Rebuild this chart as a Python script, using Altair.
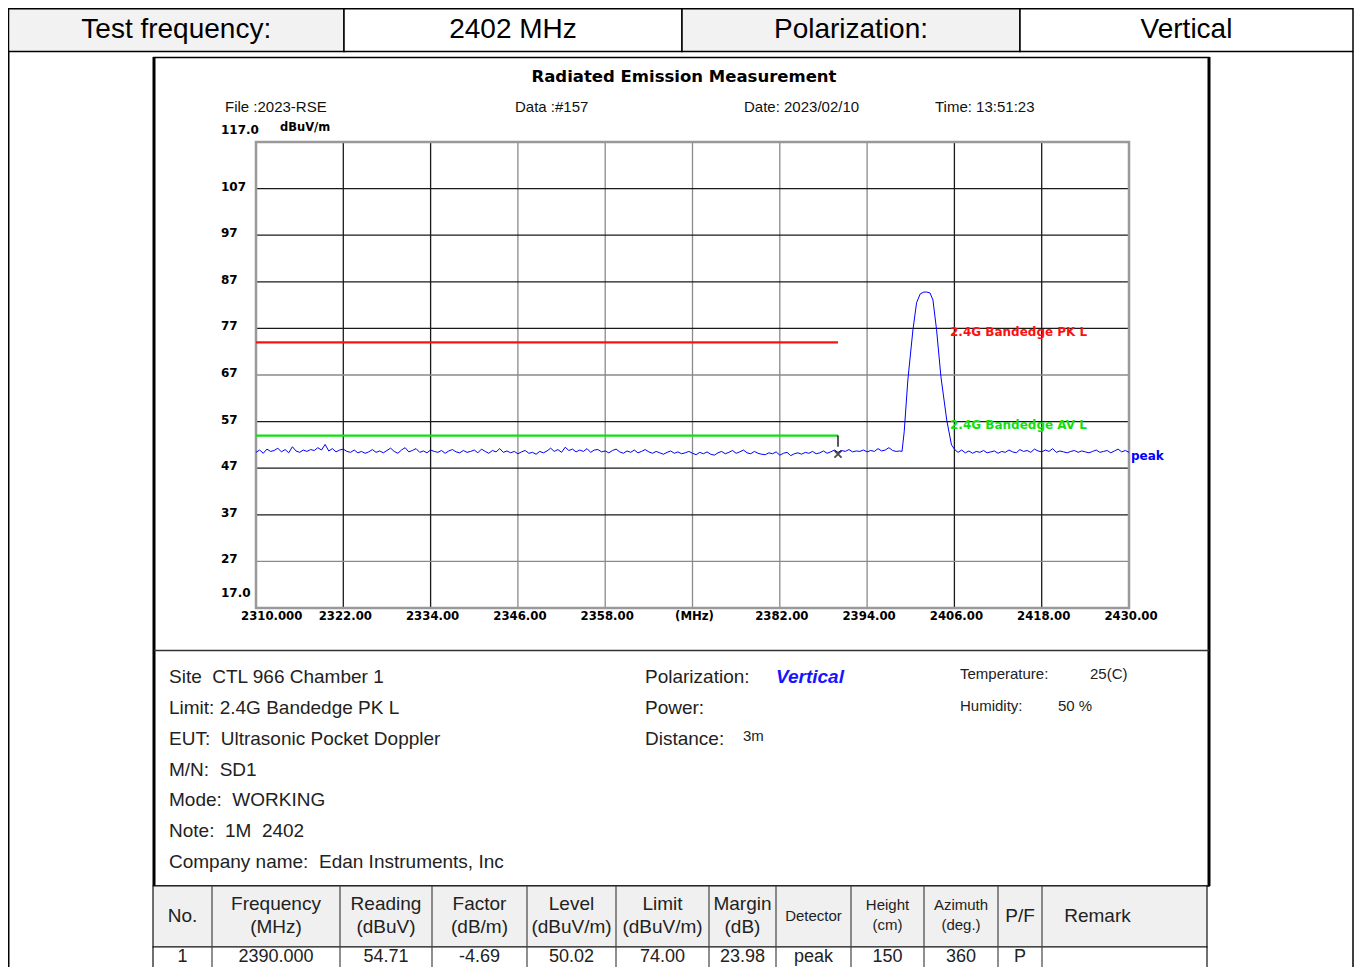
import altair as alt
import pandas as pd

# ---------------- data ----------------
F_START = 2310.0
F_STEP = 0.5
# measured trace below the carrier (2310.0 ... 2398.5 MHz, 0.5 MHz steps)
NOISE_LOW = [
    50.4, 50.9, 50.2, 51.1, 50.6, 50.8, 51.3, 50.5, 51.0, 50.3,
    51.6, 50.7, 50.4, 50.9, 50.6, 51.0, 50.8, 51.4, 50.9, 52.1,
    50.7, 51.2, 50.5, 50.9, 51.1, 50.6, 50.4, 50.9, 50.3, 50.6,
    50.2, 50.5, 51.0, 50.4, 50.7, 50.3, 50.8, 51.3, 50.6, 50.2,
    50.9, 51.4, 50.5, 50.8, 51.2, 50.4, 50.7, 50.3, 50.9, 50.6,
    50.4, 50.8, 50.2, 50.7, 51.0, 50.5, 50.3, 50.8, 50.4, 50.6,
    50.9, 50.3, 51.1, 50.6, 50.2, 50.8, 50.5, 51.2, 50.4, 50.7,
    50.3, 50.6, 50.1, 50.5, 50.8, 50.2, 50.4, 50.0, 50.6, 50.3,
    50.7, 51.3, 50.6, 51.0, 50.4, 51.5, 50.8, 51.1, 50.5, 50.9,
    50.6, 51.2, 50.4, 50.9, 51.0, 50.5, 50.7, 50.3, 50.8, 51.1,
    50.5, 50.2, 50.7, 50.4, 50.9, 50.3, 50.6, 51.0, 50.5, 50.2,
    50.6, 50.3, 50.0, 50.4, 50.7, 50.2, 50.5, 50.1, 50.3, 50.6,
    50.2, 49.9, 50.4, 50.1, 50.5, 50.0, 49.8, 50.3, 50.6, 50.1,
    50.4, 50.8, 50.2, 50.5, 50.9, 50.3, 50.1, 50.6, 50.2, 50.0,
    49.9, 50.3, 50.1, 50.5, 49.8, 50.2, 50.4, 49.7, 50.1, 50.3,
    50.0, 50.4, 50.2, 50.6, 50.1, 50.3, 50.7, 50.2, 50.5, 50.9,
    50.4, 50.8, 50.6, 51.0, 50.5, 50.7, 50.6, 50.9, 50.5, 50.8,
    50.6, 51.2, 50.7, 50.9, 51.4, 50.8, 50.6, 50.7,
]
# carrier at 2402 MHz
PEAK_FREQ = [2398.8, 2399.1, 2399.6, 2400.3, 2400.8, 2401.3, 2401.8, 2402.2,
             2402.65, 2403.05, 2403.55, 2404.15, 2404.95, 2405.6, 2406.1]
PEAK_LEVEL = [50.6, 54.8, 65.9, 76.7, 82.5, 84.4, 84.8, 84.8,
              84.6, 83.1, 76.7, 66.6, 57.3, 52.0, 50.9]
# trace above the carrier (2406.5 ... 2430.0 MHz)
HIGH_START = 2406.5
NOISE_HIGH = [
    50.4, 50.9, 50.3, 50.7, 50.2, 50.6, 50.4, 50.8, 50.3, 50.5,
    50.7, 50.2, 50.6, 50.4, 50.9, 50.5, 50.3, 51.0, 50.6, 50.8,
    50.4, 51.1, 50.7, 50.5, 50.9, 50.6, 51.2, 50.4, 50.7, 50.5,
    50.3, 50.6, 50.8, 50.4, 50.7, 50.5, 50.3, 50.6, 50.9, 50.4,
    50.6, 50.8, 50.3, 50.7, 51.1, 50.5, 50.8, 50.4,
]
LIMIT_START = 2310.0
LIMIT_END = 2390.0
PK_LIMIT = 74.0
AV_LIMIT = 54.0
MARKER_FREQ = 2390.0
MARKER_LEVEL = 50.02

X_DOMAIN = [2310, 2430]
Y_DOMAIN = [17, 117]
X_TICKS = [2310, 2322, 2334, 2346, 2358, 2370, 2382, 2394, 2406, 2418, 2430]
X_TICK_LABELS = ["2310.000", "2322.00", "2334.00", "2346.00", "2358.00", "(MHz)",
                 "2382.00", "2394.00", "2406.00", "2418.00", "2430.00"]
Y_TICKS = [107, 97, 87, 77, 67, 57, 47, 37, 27]
Y_TICK_LABELS = ["107", "97", "87", "77", "67", "57", "47", "37", "27"]

HEADER_CELLS = ["Test frequency:", "2402 MHz", "Polarization:", "Vertical"]
TITLE = "Radiated Emission Measurement"
META = ["File :2023-RSE", "Data :#157", "Date: 2023/02/10", "Time: 13:51:23"]
INFO_LEFT = ["Site\u00a0 CTL 966 Chamber 1", "Limit: 2.4G Bandedge PK L",
             "EUT:\u00a0 Ultrasonic Pocket Doppler", "M/N:\u00a0 SD1",
             "Mode:\u00a0 WORKING", "Note:\u00a0 1M\u00a0 2402",
             "Company name:\u00a0 Edan Instruments, Inc"]
TABLE_HEAD = [["No."], ["Frequency", "(MHz)"], ["Reading", "(dBuV)"], ["Factor", "(dB/m)"],
              ["Level", "(dBuV/m)"], ["Limit", "(dBuV/m)"], ["Margin", "(dB)"], ["Detector"],
              ["Height", "(cm)"], ["Azimuth", "(deg.)"], ["P/F"], ["Remark"]]
TABLE_ROW = ["1", "2390.000", "54.71", "-4.69", "50.02", "74.00", "23.98", "peak",
             "150", "360", "P", ""]

# ---------------- layout ----------------
OX, OY = 256, 142          # page position of plot origin
PW, PH = 873, 466          # plot size
SANS = "Liberation Sans, Arial, sans-serif"
BOLD = "DejaVu Sans, sans-serif"

def px(X):
    return X - OX

def py(Y):
    return Y - OY

xs = alt.Scale(domain=X_DOMAIN, nice=False, zero=False)
ys = alt.Scale(domain=Y_DOMAIN, nice=False, zero=False)


def texts(rows, size, color="#111", weight="normal", font=SANS, align="left",
          style="normal"):
    df = pd.DataFrame([{"t": t, "x": px(x), "y": py(y)} for t, x, y in rows])
    return alt.Chart(df).mark_text(fontSize=size, color=color, fontWeight=weight,
                                   font=font, align=align, fontStyle=style,
                                   baseline="middle").encode(
        x=alt.X("x:Q", scale=None, axis=None),
        y=alt.Y("y:Q", scale=None, axis=None),
        text="t:N")


def rules(rows, color, width):
    df = pd.DataFrame([{"x": px(a), "x2": px(b), "y": py(c), "y2": py(d)} for a, b, c, d in rows])
    return alt.Chart(df).mark_rule(color=color, strokeWidth=width).encode(
        x=alt.X("x:Q", scale=None, axis=None), x2="x2:Q",
        y=alt.Y("y:Q", scale=None, axis=None), y2="y2:Q")


def rects(rows, stroke, width):
    df = pd.DataFrame([{"x": px(a), "x2": px(b), "y": py(c), "y2": py(d), "fill": f}
                       for a, b, c, d, f in rows])
    return alt.Chart(df).mark_rect(stroke=stroke, strokeWidth=width).encode(
        x=alt.X("x:Q", scale=None, axis=None), x2="x2:Q",
        y=alt.Y("y:Q", scale=None, axis=None), y2="y2:Q",
        fill=alt.Fill("fill:N", scale=None))


layers = []

# --- top header row ---
HX = [8.5, 344, 682, 1020, 1353]
HFILL = ["#f2f2f2", "#ffffff", "#f2f2f2", "#ffffff"]
layers.append(rects([(HX[i], HX[i + 1], 8.75, 51.5, HFILL[i]) for i in range(4)], "#000", 1.5))
layers.append(texts([(HEADER_CELLS[i], (HX[i] + HX[i + 1]) / 2, 30) for i in range(4)],
                    28, color="#000", align="center"))
# outer frame verticals
layers.append(rules([(8.75, 8.75, 51.5, 967), (1353, 1353, 51.5, 967)], "#000", 1.5))

# --- chart box ---
layers.append(rects([(154, 1209, 57.5, 886, "#ffffff")], "#000", 1.5))
layers.append(rules([(154, 154, 57, 886), (1209, 1209, 57, 886)], "#000", 3))
layers.append(rules([(154, 1209, 650.5, 650.5)], "#333", 1.5))

# --- bottom table ---
TX = [153, 212, 340, 432, 527, 616, 709, 776, 851, 924, 998, 1042, 1207]
layers.append(rects([(TX[0], TX[-1], 886, 947, "#f0f0f0"), (TX[0], TX[-1], 947, 990, "#ffffff")],
                    "#111", 1.2))
layers.append(rules([(x, x, 886, 990) for x in TX[1:-1]], "#444", 1.2))

head_big, head_small = [], []
for i, lines in enumerate(TABLE_HEAD):
    cx = (TX[i] + TX[i + 1]) / 2
    small = lines[0] in ("Detector", "Height", "Azimuth")
    target = head_small if small else head_big
    if lines[0] == "Remark":
        head_big.append((lines[0], cx - 27, 916))
        continue
    if len(lines) == 1:
        target.append((lines[0], cx, 916))
    else:
        ys_ = (905, 925) if small else (904, 927)
        target.append((lines[0], cx, ys_[0]))
        target.append((lines[1], cx, ys_[1]))
layers.append(texts(head_big, 19, color="#222", align="center"))
layers.append(texts(head_small, 15, color="#222", align="center"))
layers.append(texts([(TABLE_ROW[i], (TX[i] + TX[i + 1]) / 2, 956.5) for i in range(len(TABLE_ROW))
                     if TABLE_ROW[i]], 18, color="#222", align="center"))

# --- title & meta ---
layers.append(texts([(TITLE, 684, 77)], 16.5, color="#000", weight="bold", font=BOLD, align="center"))
layers.append(texts([(META[0], 225, 107), (META[1], 515, 107), (META[2], 744, 107), (META[3], 935, 107)],
                    15, color="#111"))
layers.append(texts([("dBuV/m", 280, 128)], 11.5, color="#000", weight="bold", font=BOLD))

# --- info block ---
info_y = [677, 708, 739, 770, 800, 831, 862]
layers.append(texts([(INFO_LEFT[i], 169, info_y[i]) for i in range(len(INFO_LEFT))], 19, color="#222"))
layers.append(texts([("Polarization:", 645, 677), ("Power:", 645, 708), ("Distance:", 645, 739)],
                    19, color="#222"))
layers.append(texts([("Vertical", 776, 677)], 19, color="#1515ff", weight="bold", style="italic"))
layers.append(texts([("3m", 743, 736), ("Temperature:", 960, 674), ("25(C)", 1090, 674),
                     ("Humidity:", 960, 706), ("50 %", 1058, 706)], 15, color="#222"))

# --- plot grid ---
DARK_X = {2322, 2334, 2406, 2418}
DARK_Y = {107, 97, 87, 77, 57, 47, 37}
gx = pd.DataFrame({"f": X_TICKS[1:-1],
                   "c": ["#1a1a1a" if t in DARK_X else "#8a8a8a" for t in X_TICKS[1:-1]]})
gy = pd.DataFrame({"v": Y_TICKS,
                   "c": ["#1a1a1a" if t in DARK_Y else "#8a8a8a" for t in Y_TICKS]})
layers.append(alt.Chart(gx).mark_rule(strokeWidth=1.3).encode(
    x=alt.X("f:Q", scale=xs, axis=None), color=alt.Color("c:N", scale=None)))
layers.append(alt.Chart(gy).mark_rule(strokeWidth=1.3).encode(
    y=alt.Y("v:Q", scale=ys, axis=None), color=alt.Color("c:N", scale=None)))
border = pd.DataFrame({"f0": [X_DOMAIN[0]], "f1": [X_DOMAIN[1]], "v0": [Y_DOMAIN[0]], "v1": [Y_DOMAIN[1]]})
layers.append(alt.Chart(border).mark_rect(fill=None, stroke="#999999", strokeWidth=2.5).encode(
    x=alt.X("f0:Q", scale=xs, axis=None), x2="f1:Q",
    y=alt.Y("v0:Q", scale=ys, axis=None), y2="v1:Q"))

# axis labels
ylab = pd.DataFrame({"v": Y_TICKS, "t": Y_TICK_LABELS})
layers.append(alt.Chart(ylab).mark_text(font=BOLD, fontWeight="bold", fontSize=12, align="left",
                                        baseline="middle", dy=-2, color="#000").encode(
    x=alt.value(px(221)), y=alt.Y("v:Q", scale=ys, axis=None), text="t:N"))
yend = pd.DataFrame({"v": [Y_DOMAIN[1]], "t": ["117.0"]})
layers.append(alt.Chart(yend).mark_text(font=BOLD, fontWeight="bold", fontSize=12, align="left",
                                        baseline="middle", dy=-12, color="#000").encode(
    x=alt.value(px(221)), y=alt.Y("v:Q", scale=ys, axis=None), text="t:N"))
ystart = pd.DataFrame({"v": [Y_DOMAIN[0]], "t": ["17.0"]})
layers.append(alt.Chart(ystart).mark_text(font=BOLD, fontWeight="bold", fontSize=12, align="left",
                                          baseline="middle", dy=-15, color="#000").encode(
    x=alt.value(px(221)), y=alt.Y("v:Q", scale=ys, axis=None), text="t:N"))
xfirst = pd.DataFrame({"f": X_TICKS[:1], "t": X_TICK_LABELS[:1]})
layers.append(alt.Chart(xfirst).mark_text(font=BOLD, fontWeight="bold", fontSize=11.7, align="left",
                                          baseline="middle", dx=-15, color="#000").encode(
    x=alt.X("f:Q", scale=xs, axis=None), y=alt.value(py(616)), text="t:N"))
xrest = pd.DataFrame({"f": X_TICKS[1:], "t": X_TICK_LABELS[1:]})
layers.append(alt.Chart(xrest).mark_text(font=BOLD, fontWeight="bold", fontSize=11.7, align="center",
                                         baseline="middle", dx=2, color="#000").encode(
    x=alt.X("f:Q", scale=xs, axis=None), y=alt.value(py(616)), text="t:N"))

# --- limit lines ---
lim = pd.DataFrame({"f0": [LIMIT_START, LIMIT_START], "f1": [LIMIT_END, LIMIT_END],
                    "v": [PK_LIMIT, AV_LIMIT], "c": ["#ff1010", "#10e010"]})
layers.append(alt.Chart(lim).mark_rule(strokeWidth=2.4).encode(
    x=alt.X("f0:Q", scale=xs, axis=None), x2="f1:Q",
    y=alt.Y("v:Q", scale=ys, axis=None), color=alt.Color("c:N", scale=None)))

# --- measured trace ---
freqs = ([F_START + i * F_STEP for i in range(len(NOISE_LOW))] + PEAK_FREQ +
         [HIGH_START + i * F_STEP for i in range(len(NOISE_HIGH))])
levels = NOISE_LOW + PEAK_LEVEL + NOISE_HIGH
trace = pd.DataFrame({"f": freqs, "v": levels, "i": list(range(len(freqs)))})
layers.append(alt.Chart(trace).mark_line(color="#0000ff", strokeWidth=1).encode(
    x=alt.X("f:Q", scale=xs, axis=None), y=alt.Y("v:Q", scale=ys, axis=None), order="i:Q"))

# --- marker ---
mk = pd.DataFrame({"f": [MARKER_FREQ], "v": [MARKER_LEVEL], "top": [AV_LIMIT], "bot": [MARKER_LEVEL + 1.6]})
layers.append(alt.Chart(mk).mark_rule(color="#000", strokeWidth=1.3).encode(
    x=alt.X("f:Q", scale=xs, axis=None), y=alt.Y("top:Q", scale=ys, axis=None), y2="bot:Q"))
layers.append(alt.Chart(mk).mark_point(shape="M-1,-1L1,1M-1,1L1,-1", size=50, stroke="#000",
                                       strokeWidth=1.8, filled=False).encode(
    x=alt.X("f:Q", scale=xs, axis=None), y=alt.Y("v:Q", scale=ys, axis=None)))

# --- series labels ---
layers.append(texts([("2.4G Bandedge PK L", 950, 332)], 12, color="#ff1010", weight="bold", font=BOLD))
layers.append(texts([("2.4G Bandedge AV L", 950, 425)], 12, color="#10e010", weight="bold", font=BOLD))
layers.append(texts([("peak", 1131, 456)], 12, color="#0000ff", weight="bold", font=BOLD))

chart = alt.layer(*layers).properties(
    width=PW, height=PH,
    autosize=alt.AutoSizeParams(type="none"),
    padding={"left": OX - 8, "top": OY - 8, "right": 1346 - (OX - 8) - PW, "bottom": 959 - (OY - 8) - PH},
    background="#ffffff",
).configure_view(stroke=None)

chart.save("out.html", embed_options={"renderer": "svg", "actions": False})
